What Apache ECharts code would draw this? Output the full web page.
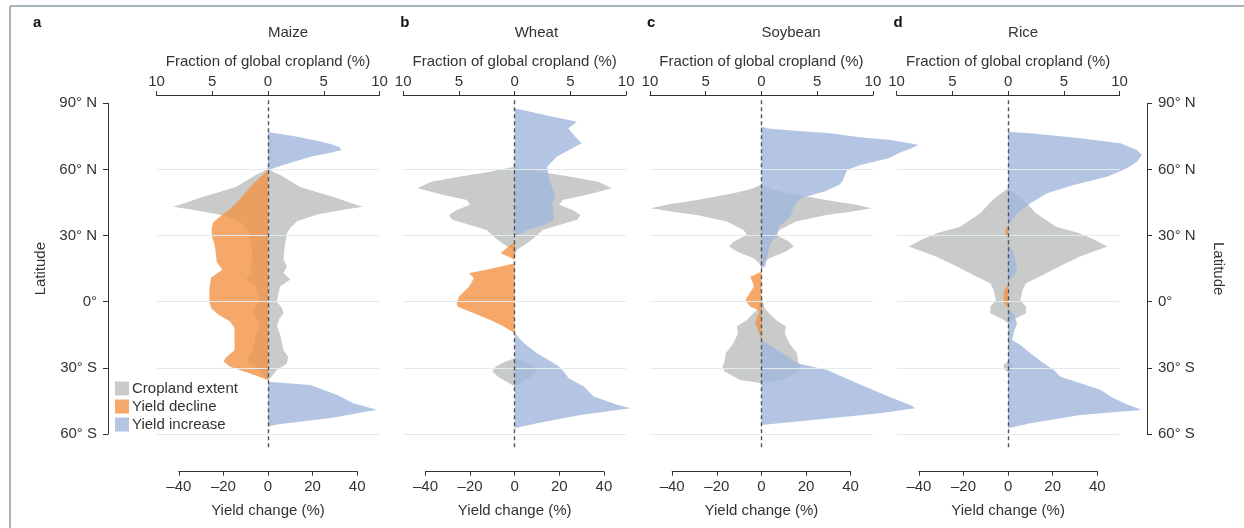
<!DOCTYPE html>
<html>
<head>
<meta charset="utf-8">
<script src="https://cdn.jsdelivr.net/npm/echarts@6/dist/echarts.min.js"></script>
<style>html,body{margin:0;padding:0;background:#fff}#c{width:1244px;height:528px}</style>
</head>
<body>
<div id="c"></div>
<script>
// ---------------- DATA (latitude, value) ----------------
const panelLetters = ['a', 'b', 'c', 'd'];
const cropNames = ['Maize', 'Wheat', 'Soybean', 'Rice'];
const fracTicks = [-10, -5, 0, 5, 10];
const yieldTicks = [-40, -20, 0, 20, 40];
const latTicks = [-60, -30, 0, 30, 60, 90];
const latGridLines = [-60, -30, 0, 30, 60];
const seriesNames = ['Cropland extent', 'Yield decline', 'Yield increase'];

// cropland extent: fraction of global cropland (%), mirrored about 0
const maizeCrop = [[61,0],[59,0.4],[57.5,1.1],[55,1.9],[52,2.9],[49.5,4.5],[47.5,5.9],[45,7.3],[43,8.5],[41.5,6.5],[39.5,4.4],[36.5,2.6],[33.5,2.0],[31,1.7],[25,1.5],[19,1.4],[16,1.7],[13,1.4],[10,2.0],[7,1.1],[3,0.9],[0,0.8],[-2.5,1.2],[-5,1.4],[-8,1.0],[-11,0.8],[-15,1.1],[-22,1.4],[-25,1.8],[-28,1.7],[-31,0.8],[-34,0.3],[-35.5,0]];
const wheatCrop = [[61.2,0],[58.9,2.2],[56.7,5],[54.4,7.5],[51.4,8.7],[48.4,6.4],[46.1,4.3],[43.9,4.0],[41.6,5.2],[39.3,5.9],[37.1,5.6],[34.8,4.0],[32.5,2.5],[29.5,1.9],[26.5,1.1],[23.5,0.2],[21,0],[-25.7,0],[-27.5,1.0],[-29.5,1.7],[-31.7,2.0],[-34,1.5],[-35.5,1.0],[-38.5,0]];
const soyCrop = [[53,0],[51,1.0],[49.2,2.5],[46.1,5.8],[44,8.5],[42.4,9.9],[40.8,8],[39.3,5.8],[36.3,3.1],[32.5,1.6],[30.2,1.3],[27.2,2.5],[25,2.9],[22.7,2.2],[19.7,0.7],[17.4,0.2],[15,0],[2,0],[-3,0.3],[-5.3,0.7],[-8.3,1.3],[-11.3,2.2],[-14.3,2.1],[-18.9,2.5],[-23.4,3.2],[-27.2,3.3],[-29.5,3.5],[-31.7,3.3],[-35.5,1.9],[-37,0]];
const riceCrop = [[51.4,0],[48.5,0.8],[46.1,1.4],[40.1,2.5],[34,4.3],[31,6.4],[28,7.8],[25,8.9],[23,7.8],[20.4,6.4],[15.9,4.6],[11.3,2.8],[8.3,1.6],[5.3,1.3],[0.8,1.1],[-2.3,1.6],[-5.3,1.6],[-8.3,0.4],[-9.8,0],[-27,0],[-28.5,0.4],[-30.5,0.4],[-32,0]];

// yield decline (%)
const maizeDecline = [[59.7,0],[56,-4],[52,-8],[46,-13],[42,-17],[39,-21],[36,-24.5],[33,-25.3],[29,-25],[26,-24],[23,-23.5],[18,-23],[14.5,-20.5],[11,-25.5],[6,-26.3],[0,-26.3],[-3,-25.5],[-6,-22],[-9,-17],[-12,-15],[-17,-15],[-22,-15],[-25,-18.5],[-27,-20],[-29.5,-17],[-32,-9.6],[-35.5,0]];
const wheatDecline = [[27.2,0],[24.5,-3.5],[22,-6.3],[20.5,-3],[19,0],[17.4,0],[15.5,-8],[12.9,-20.5],[10.6,-18.3],[6.8,-20.5],[2.3,-25],[-1,-26],[-2.3,-25.5],[-5.3,-18.3],[-8.3,-10.9],[-11.3,-4.9],[-14.3,0]];
const soyDecline = [[13.6,0],[11.3,-5],[9,-4],[6.8,-3.4],[3.5,-5.5],[0.8,-7.2],[-2.3,-5],[-3.8,-1.3],[-5,-1],[-6.8,-2],[-9.8,-2.7],[-13.6,-1.3],[-17.4,0]];
const riceDecline = [[34,0],[33,-1.2],[30.5,-1.2],[29.5,0],[7.6,0],[5,-2],[0,-2],[-2.9,0]];

// yield increase (%)
const maizeIncrease = [[77,0],[75,12],[73,22],[71.5,28],[70,32],[68.8,33],[67.5,28],[66,20],[63,10],[59.7,0],[-36.3,0],[-37.8,19],[-42.3,31],[-46,38],[-49,48.7],[-52.7,29],[-55.7,4],[-56.7,0]];
const wheatIncrease = [[87.7,0],[84.5,14],[81.6,28],[78.6,24],[75,27],[71.8,30],[68.5,24],[65.8,19],[61.2,14.5],[53.7,16],[47.6,18.3],[44.6,16.8],[37,17.5],[34.8,13],[32.5,5.5],[30.2,1.5],[29.5,0],[-14.3,0],[-18.9,4.2],[-23.4,10],[-28.7,19],[-31.7,22],[-34.7,24.2],[-38.5,31],[-43,35.4],[-46.8,46],[-48.3,52],[-51.4,29.5],[-55.1,10],[-57.4,0]];
const soyIncrease = [[79.4,0],[78.5,3],[77.5,15],[76.4,31],[74.5,45],[73.3,58],[72,66],[71,70.4],[69.5,67],[67.5,62],[65,57],[62,44.4],[59.7,38.4],[55,36.5],[53,35],[49.9,28],[46.9,17.5],[43.1,14.5],[38.5,13],[34,7.8],[29.5,7],[26.5,4],[20.4,2.5],[15.9,1.8],[15.1,0],[-17.4,0],[-21.9,7],[-25.7,13],[-27.9,16],[-31,29.5],[-37,43],[-43,57],[-47,67],[-48.3,69],[-50.6,53],[-52.9,31],[-54.5,15],[-55.9,0]];
const riceIncrease = [[77.1,0],[76.4,10],[74.1,32.4],[71.8,50.3],[68.8,57.8],[66.5,60],[63.5,57.8],[60.5,53.3],[56.7,44.4],[52.9,29.4],[49.2,17.5],[44.6,10],[40.1,4],[35.6,1],[34.8,0],[26.5,0],[22,2.5],[19,3.3],[14.4,4],[11.3,2],[9.1,0],[-3,0],[-5.3,2.5],[-9.8,4],[-14.3,2.5],[-17.4,1.8],[-19.6,5.5],[-23.4,10],[-27.9,16],[-31,20.5],[-34,23.5],[-37,32.4],[-40,41.4],[-43,45.9],[-46,51.9],[-49.1,60],[-51.4,32.4],[-55.1,10],[-57.4,0]];

const cropData = [maizeCrop, wheatCrop, soyCrop, riceCrop];
const declineData = [maizeDecline, wheatDecline, soyDecline, riceDecline];
const increaseData = [maizeIncrease, wheatIncrease, soyIncrease, riceIncrease];

// ---------------- LAYOUT / STYLE ----------------
const FONT = "'Liberation Sans', Arial, sans-serif";
const TXT = '#333';
const GREY = '#c9caca', ORANGE = '#f29245', BLUE = '#a0b6dc';
const firstCenter = 268, step = 246.7, halfW = 111.5;
const plotTop = 97.7, plotBottom = 447.2;   // extended plot (for dashed line)
const latTop = 103.3, latBottom = 434;        // 90N .. 60S
const yMin = -66, yMax = 92.5;
const bottomAxisY = 471.7;
const yieldHalf = 40 * halfW / 50;

const chart = echarts.init(document.getElementById('c'), null, {renderer: 'canvas'});

const grid = [], xAxis = [], yAxis = [], series = [], graphic = [];
const fmtMinus = v => (v < 0 ? '\u2013' + (-v) : '' + v);

function poly(name, xi, yi, arr, mirror, color, op, z) {
  return {
    type: 'custom', name, xAxisIndex: xi, yAxisIndex: yi, z, clip: false, silent: true,
    itemStyle: {color, opacity: op},
    data: [[0, 0]],
    renderItem: (params, api) => {
      const pts = arr.map(p => api.coord([p[1], p[0]]));
      if (mirror) for (let i = arr.length - 1; i >= 0; i--) pts.push(api.coord([-arr[i][1], arr[i][0]]));
      return {type: 'polygon', shape: {points: pts}, style: {fill: color, opacity: op}};
    }
  };
}

for (let p = 0; p < 4; p++) {
  const c = firstCenter + p * step;
  const gMain = grid.length;
  grid.push({left: c - halfW, width: 2 * halfW, top: plotTop, height: plotBottom - plotTop});
  const gBot = grid.length;
  grid.push({left: c - yieldHalf, width: 2 * yieldHalf, top: bottomAxisY - 10, height: 10});

  const xFrac = xAxis.length;
  xAxis.push({
    type: 'value', gridIndex: gMain, position: 'top', offset: plotTop - 95, min: -10, max: 10, interval: 5,
    axisLine: {show: true, onZero: false, lineStyle: {color: TXT, width: 1}},
    axisTick: {show: true, length: 4, lineStyle: {color: TXT}},
    axisLabel: {formatter: v => '' + Math.abs(v), color: TXT, fontSize: 15, fontFamily: FONT, margin: 6},
    splitLine: {show: false},
    name: 'Fraction of global cropland (%)', nameLocation: 'middle', nameGap: 26,
    nameTextStyle: {color: TXT, fontSize: 15, fontFamily: FONT}
  });
  const xYield = xAxis.length;
  xAxis.push({type: 'value', gridIndex: gMain, min: -50, max: 50, show: false});
  xAxis.push({
    type: 'value', gridIndex: gBot, position: 'bottom', min: -40, max: 40, interval: 20,
    axisLine: {show: true, onZero: false, lineStyle: {color: TXT, width: 1}},
    axisTick: {show: true, length: 4, lineStyle: {color: TXT}},
    axisLabel: {formatter: fmtMinus, color: TXT, fontSize: 15, fontFamily: FONT, margin: 8},
    splitLine: {show: false},
    name: 'Yield change (%)', nameLocation: 'middle', nameGap: 32,
    nameTextStyle: {color: TXT, fontSize: 15, fontFamily: FONT}
  });
  const yMain = yAxis.length;
  yAxis.push({type: 'value', gridIndex: gMain, min: yMin, max: yMax, show: false});
  yAxis.push({type: 'value', gridIndex: gBot, min: 0, max: 1, show: false});

  // grid lines
  series.push({
    type: 'line', xAxisIndex: xFrac, yAxisIndex: yMain, data: [], z: 1, silent: true,
    markLine: {silent: true, symbol: 'none', animation: false, label: {show: false},
      lineStyle: {color: '#e4ebee', width: 1, type: 'solid'},
      data: latGridLines.map(v => ({yAxis: v}))}
  });
  series.push(poly(seriesNames[0], xFrac, yMain, cropData[p], true, GREY, 1, 2));
  series.push(poly(seriesNames[1], xYield, yMain, declineData[p], false, ORANGE, 0.8, 3));
  series.push(poly(seriesNames[2], xYield, yMain, increaseData[p], false, BLUE, 0.8, 3));
  // dashed zero line
  series.push({
    type: 'line', xAxisIndex: xFrac, yAxisIndex: yMain, data: [], z: 10, silent: true,
    markLine: {silent: true, symbol: 'none', animation: false, label: {show: false},
      lineStyle: {color: '#555', width: 1.4, type: [4, 3]},
      data: [{xAxis: 0}]}
  });

  graphic.push({type: 'text', left: c, top: 25, style: {text: cropNames[p], fill: TXT, font: '15px ' + FONT, textAlign: 'center'}});
  graphic.push({type: 'text', left: p === 0 ? 33 : c - halfW - 3, top: 15, style: {text: panelLetters[p], fill: '#111', font: 'bold 15px ' + FONT}});
}

// latitude axes (left and right)
function latAxis(left, pos) {
  const g = grid.length;
  grid.push({left: left, width: 1, top: latTop, height: latBottom - latTop});
  xAxis.push({type: 'value', gridIndex: g, show: false, min: 0, max: 1});
  yAxis.push({
    type: 'value', gridIndex: g, position: pos, min: -60, max: 90, interval: 30,
    axisLine: {show: true, onZero: false, lineStyle: {color: TXT, width: 1}},
    axisTick: {show: true, length: 5, lineStyle: {color: TXT}},
    axisLabel: {color: TXT, fontSize: 15, fontFamily: FONT, margin: 11,
      formatter: v => v > 0 ? v + '\u00b0 N' : (v < 0 ? (-v) + '\u00b0 S' : '0\u00b0')},
    splitLine: {show: false},
    name: 'Latitude', nameLocation: 'middle', nameGap: pos === 'left' ? 60 : 64,
    nameRotate: pos === 'left' ? 90 : -90,
    nameTextStyle: {color: TXT, fontSize: 15, fontFamily: FONT}
  });
}
latAxis(108, 'left');
latAxis(1146, 'right');

// frame of the figure
graphic.push({type: 'line', shape: {x1: 10, y1: 6, x2: 1244, y2: 6}, style: {stroke: '#aab4bb', lineWidth: 2}});
graphic.push({type: 'line', shape: {x1: 10, y1: 6, x2: 10, y2: 528}, style: {stroke: '#aab4bb', lineWidth: 2}});

chart.setOption({
  animation: false,
  backgroundColor: '#fff',
  textStyle: {fontFamily: FONT},
  grid, xAxis, yAxis, series, graphic,
  legend: {
    data: seriesNames.map(n => ({name: n, icon: 'rect'})),
    orient: 'vertical', left: 110, top: 376, itemWidth: 14, itemHeight: 14, itemGap: 3,
    textStyle: {color: TXT, fontSize: 15, fontFamily: FONT, padding: [0, 0, 0, -2]},
    selectedMode: false
  }
});
</script>
</body>
</html>
